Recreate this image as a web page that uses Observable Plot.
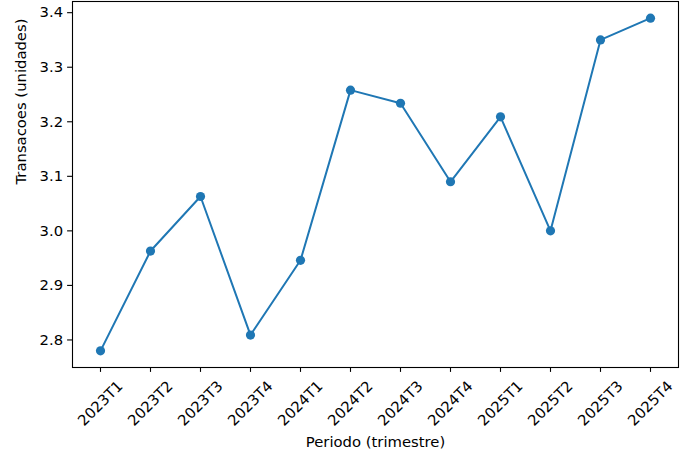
<!DOCTYPE html>
<html>
<head>
<meta charset="utf-8">
<script src="https://cdn.jsdelivr.net/npm/d3@7"></script>
<script src="https://cdn.jsdelivr.net/npm/@observablehq/plot@0.6"></script>
<style>
  html, body { margin: 0; padding: 0; background: #fff; }
  svg { display: block; }
</style>
</head>
<body>
<div id="chart"></div>
<script>
const periods = ["2023T1","2023T2","2023T3","2023T4","2024T1","2024T2","2024T3","2024T4","2025T1","2025T2","2025T3","2025T4"];
const values = [2.780, 2.963, 3.063, 2.809, 2.946, 3.258, 3.234, 3.090, 3.209, 3.000, 3.350, 3.390];
const yTicks = [2.8, 2.9, 3.0, 3.1, 3.2, 3.3, 3.4];
const xLabel = "Periodo (trimestre)";
const yLabel = "Transacoes (unidades)";

const data = periods.map((p, i) => ({period: p, value: values[i]}));
const [lo, hi] = d3.extent(values);
const pad = (hi - lo) * 0.05;

const fs = 14.8;
const chart = Plot.plot({
  width: 696,
  height: 466,
  marginLeft: 72,
  marginRight: 18,
  marginTop: 1,
  marginBottom: 99,
  style: {fontFamily: "DejaVu Sans", fontSize: fs + "px", background: "#fff", color: "#000"},
  x: {type: "point", domain: periods, padding: 0.55, axis: null},
  y: {domain: [lo - pad, hi + pad], axis: null},
  marks: [
    Plot.axisY({ticks: yTicks, tickFormat: d3.format(".1f"), tickSize: 4.9, tickPadding: 4.5, strokeWidth: 1.1, label: null, fontSize: fs}),
    Plot.axisX({tickSize: 4.9, tickFormat: () => "", strokeWidth: 1.1, label: null}),
    Plot.text(periods, {x: d => d, text: d => d, frameAnchor: "bottom", dy: 36, rotate: -45, textAnchor: "middle", lineAnchor: "middle", fontSize: fs}),
    Plot.text([xLabel], {text: d => d, frameAnchor: "bottom", dy: 75, lineAnchor: "middle", fontSize: fs}),
    Plot.text([yLabel], {text: d => d, frameAnchor: "left", dx: -51, rotate: -90, lineAnchor: "middle", fontSize: fs}),
    Plot.line(data, {x: "period", y: "value", stroke: "#1f77b4", strokeWidth: 2}),
    Plot.dot(data, {x: "period", y: "value", fill: "#1f77b4", r: 4.6}),
    Plot.frame({stroke: "#000", strokeWidth: 1.1})
  ]
});
document.getElementById("chart").appendChild(chart);
</script>
</body>
</html>
